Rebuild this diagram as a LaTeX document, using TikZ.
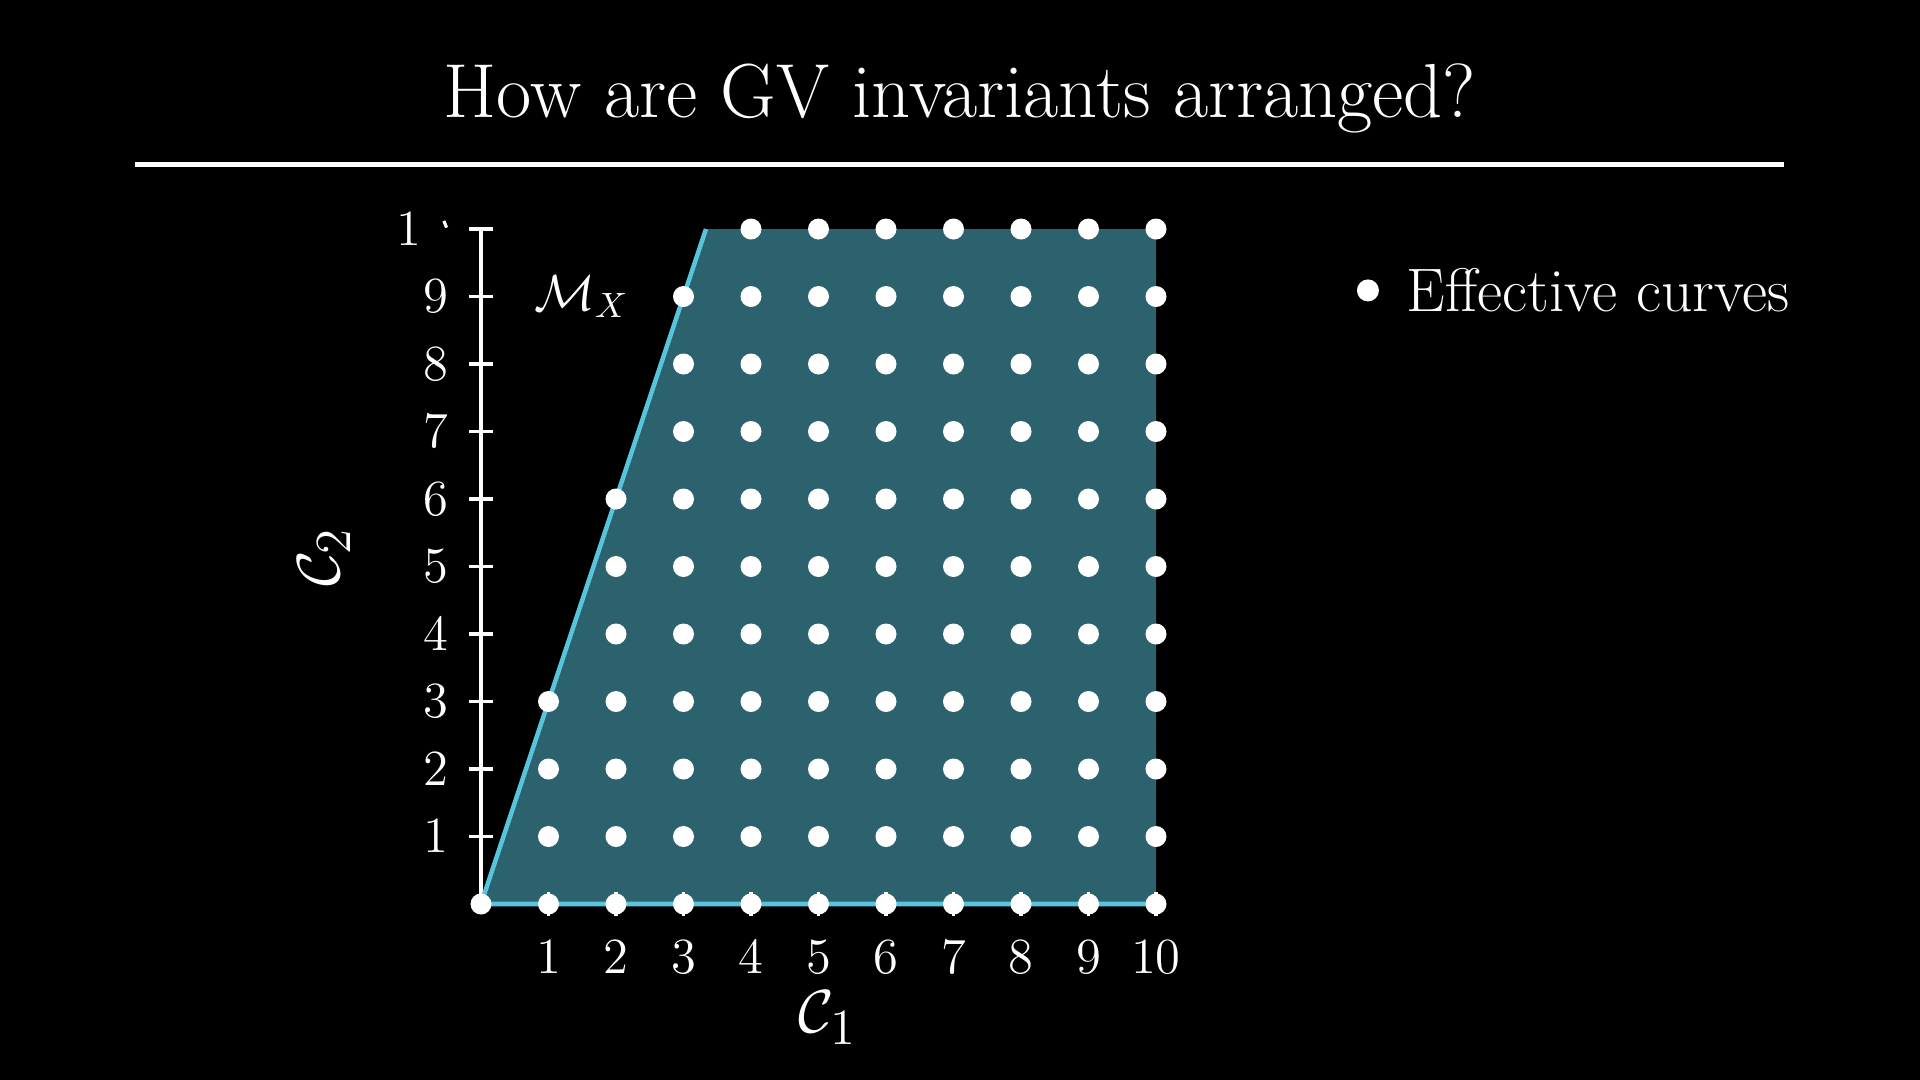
\documentclass[tikz,border=0pt]{standalone}
\usepackage{amsmath}
\definecolor{bluec}{HTML}{58C4DD}
\definecolor{conefill}{HTML}{2C626E}
\begin{document}
\begin{tikzpicture}[x=0.675cm,y=0.675cm,
  dot/.style={circle,fill=white,draw=none,inner sep=0pt,minimum size=0.21cm},
  ticklab/.style={text=white,inner sep=0pt,font=\fontsize{14.8}{18}\selectfont},
  axislab/.style={text=white,inner sep=0pt,font=\fontsize{19}{22}\selectfont},
  axisline/.style={draw=white,line width=0.9pt},
  coneedge/.style={draw=bluec,line width=1.3pt}]
\fill[black] (-7.126,-2.607) rectangle (21.319,13.393);
\useasboundingbox (-7.126,-2.607) rectangle (21.319,13.393);
% title and rule
\node[text=white,anchor=base,inner sep=0pt,font=\fontsize{21.8}{26}\selectfont] (title) at (7.096,11.659) {How are GV invariants arranged?};
\coordinate (rl) at (-5.126,10.953);
\coordinate (rr) at (19.30,10.953);
\draw[white,line width=1.6pt] (rl) -- (rr);
% cone
\coordinate (O) at (0,0);
\coordinate (A) at (10/3,10);
\coordinate (B) at (10,10);
\coordinate (C) at (10,0);
\fill[conefill] (O) -- (A) -- (B) -- (C) -- cycle;
% axes
\coordinate (ytop) at (0,10);
\draw[axisline] (O) -- (ytop);
\foreach \j in {1,...,10} {
  \coordinate (yl\j) at (-0.18,\j);
  \coordinate (yr\j) at (0.18,\j);
  \draw[axisline] (yl\j) -- (yr\j);
}
\foreach \i in {1,...,10} {
  \coordinate (xb\i) at (\i,-0.18);
  \coordinate (xt\i) at (\i,0.18);
  \draw[axisline] (xb\i) -- (xt\i);
}
\draw[coneedge] (A) -- (O) -- (C);
% tick labels
\foreach \j in {1,...,9} {
  \node[ticklab,anchor=east] (ylab\j) at (-0.47,\j) {$\j$};
}
\node[ticklab,anchor=east] (ylab10) at (-0.87,10) {$1$};
\coordinate (fa) at (-0.55,10.12);
\coordinate (fb) at (-0.51,10.02);
\draw[white,line width=0.9pt] (fa) -- (fb);
\foreach \i in {1,...,10} {
  \node[ticklab,anchor=north] (xlab\i) at (\i,-0.53) {$\i$};
}
% axis labels
\node[axislab] (c1) at (5.14,-1.68) {$\mathcal{C}_1$};
\node[axislab,rotate=90] (c2) at (-2.32,5.14) {$\mathcal{C}_2$};
\node[text=white,inner sep=0pt,font=\fontsize{14.5}{18}\selectfont] (mx) at (1.49,9.0) {$\mathcal{M}_X$};
% dots
\foreach \j/\s in {0/0,1/1,2/1,3/1,4/2,5/2,6/2,7/3,8/3,9/3,10/4} {
  \foreach \i in {\s,...,10} {
    \node[dot] (d-\i-\j) at (\i,\j) {};
  }
}
% legend
\node[dot,minimum size=0.22cm] (ldot) at (13.14,9.09) {};
\node[text=white,anchor=west,inner sep=0pt,font=\fontsize{17.5}{21}\selectfont] (ltext) at (13.70,9.09) {Effective curves};
\end{tikzpicture}
\end{document}
